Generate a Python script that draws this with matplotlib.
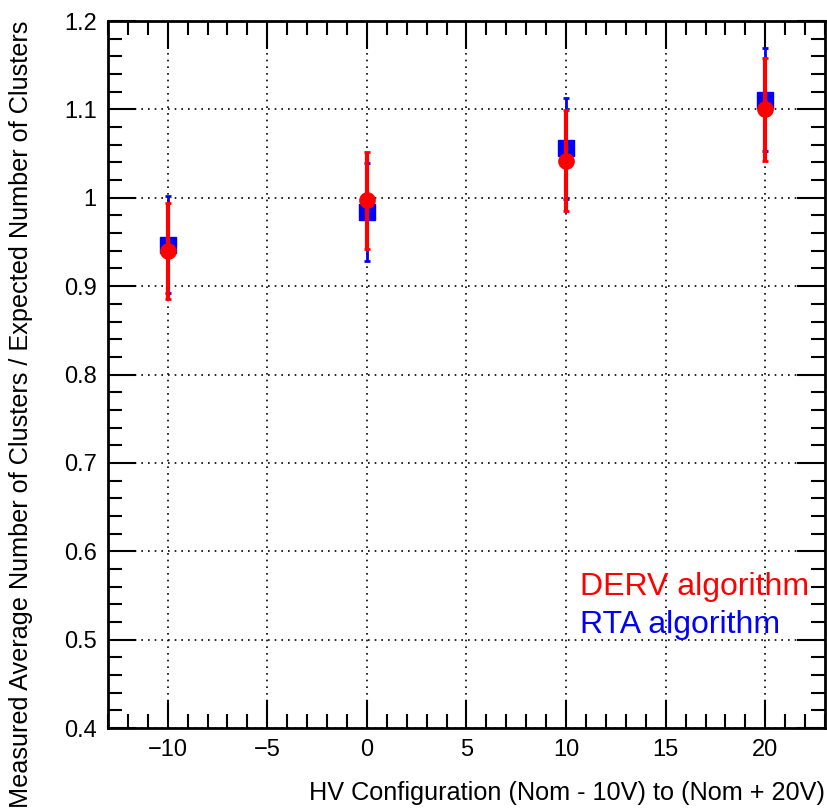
import matplotlib.pyplot as plt
from matplotlib.ticker import MultipleLocator

plt.rcParams['font.family'] = ['Liberation Sans', 'DejaVu Sans']

# HV offsets and measured ratios
hv = [-10, 0, 10, 20]
derv = [0.940, 0.997, 1.042, 1.100]
derv_err = [0.054, 0.055, 0.057, 0.058]
rta = [0.947, 0.984, 1.056, 1.111]
rta_err = [0.055, 0.055, 0.057, 0.058]

fig = plt.figure(figsize=(8.28, 8.09), dpi=100)
ax = fig.add_axes([0.1304, 0.1001, 0.8660, 0.8739])

ax.errorbar(hv, rta, yerr=rta_err, fmt='s', color='blue', ms=12, elinewidth=2,
            capsize=2.5, capthick=2, zorder=3)
ax.errorbar(hv, derv, yerr=derv_err, fmt='o', color='red', ms=11, elinewidth=3,
            capsize=2.5, capthick=2, zorder=4)

ax.set_xlim(-13, 23)
ax.set_ylim(0.4, 1.2)
ax.xaxis.set_major_locator(MultipleLocator(5))
ax.xaxis.set_minor_locator(MultipleLocator(1))
ax.yaxis.set_major_locator(MultipleLocator(0.1))
ax.yaxis.set_minor_locator(MultipleLocator(0.02))
ax.set_yticks([0.4, 0.5, 0.6, 0.7, 0.8, 0.9, 1.0, 1.1, 1.2],
              ['0.4', '0.5', '0.6', '0.7', '0.8', '0.9', '1', '1.1', '1.2'])
ax.tick_params(which='both', direction='in', top=True, right=True, width=1.5, labelsize=17)
ax.tick_params(which='major', length=20, pad=8)
ax.tick_params(which='minor', length=10)
for s in ax.spines.values():
    s.set_linewidth(2)
ax.grid(True, which='major', color='black', linestyle=(0, (1, 3)), linewidth=1.2)

ax.set_xlabel('HV Configuration (Nom - 10V) to (Nom + 20V)', fontsize=18.2, loc='right', labelpad=14)
ax.set_ylabel('Measured Average Number of Clusters / Expected Number of Clusters',
              fontsize=18.2, loc='top', labelpad=22)

ax.text(10.7, 0.551, 'DERV algorithm', color='red', fontsize=23)
ax.text(10.7, 0.508, 'RTA algorithm', color='blue', fontsize=23)

fig.savefig('out.png', dpi=100)
